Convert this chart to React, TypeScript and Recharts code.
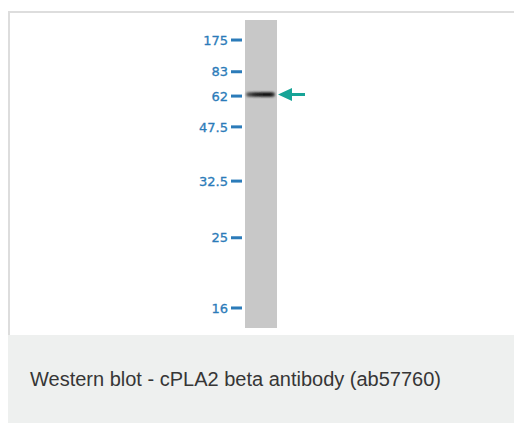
import React from "react";
import {
  ComposedChart,
  XAxis,
  YAxis,
  ReferenceArea,
  Scatter,
} from "recharts";

// molecular weight markers (kDa) and where they run, in % of lane length from the top
const markerLabels = ["175", "83", "62", "47.5", "32.5", "25", "16"];
const markerMigration = [6.5, 16.8, 24.7, 34.7, 52.3, 70.7, 93.5];

// detected band in the single lane
const bandLane = [0.5];
const bandMigration = [24.2];

const caption = "Western blot - cPLA2 beta antibody (ab57760)";

const bandData = bandLane.map((lane, i) => ({ lane, migration: bandMigration[i] }));

const LABEL_BLUE = "#2b7bb9";
const ARROW_TEAL = "#17a497";

function MarkerTick(props: any) {
  const { x, y, payload } = props;
  const idx = markerMigration.indexOf(payload.value);
  return (
    <g>
      <rect x={x - 14} y={y - 1.5} width={11} height={3} fill={LABEL_BLUE} />
      <text
        x={x - 17}
        y={y}
        dy="0.36em"
        textAnchor="end"
        fill={LABEL_BLUE}
        stroke={LABEL_BLUE}
        strokeWidth={0.3}
        fontFamily="DejaVu Sans, sans-serif"
        fontSize={13}
      >
        {markerLabels[idx]}
      </text>
    </g>
  );
}

function BandShape(props: any) {
  const { cx, cy } = props;
  return (
    <g>
      <rect
        x={cx - 15}
        y={cy - 2.2}
        width={29}
        height={4.4}
        rx={2.2}
        fill="url(#bandGrad)"
        filter="url(#bandBlur)"
      />
      <path
        d={`M ${cx + 17} ${cy}
            L ${cx + 31} ${cy - 6.5}
            L ${cx + 31} ${cy - 1.5}
            L ${cx + 44} ${cy - 1.5}
            L ${cx + 44} ${cy + 1.5}
            L ${cx + 31} ${cy + 1.5}
            L ${cx + 31} ${cy + 6.5} Z`}
        fill={ARROW_TEAL}
      />
    </g>
  );
}

export default function App() {
  return (
    <div
      style={{
        position: "absolute",
        left: 0,
        top: 0,
        width: 514,
        height: 423,
        background: "#fff",
        overflow: "hidden",
      }}
    >
      <div
        style={{
          position: "absolute",
          left: 8,
          top: 11,
          width: 506,
          height: 412,
          borderTop: "2px solid #dddddd",
          borderLeft: "2px solid #dddddd",
          boxSizing: "border-box",
        }}
      />
      <div style={{ position: "absolute", left: 0, top: 0 }}>
        <ComposedChart
          width={514}
          height={335}
          data={bandData}
          margin={{ top: 20, right: 237, bottom: 7, left: 200 }}
        >
          <defs>
            <linearGradient id="bandGrad" x1="0" y1="0" x2="1" y2="0">
              <stop offset="0%" stopColor="#666" />
              <stop offset="30%" stopColor="#222" />
              <stop offset="80%" stopColor="#050505" />
              <stop offset="100%" stopColor="#444" />
            </linearGradient>
            <filter id="bandBlur" x="-20%" y="-100%" width="140%" height="300%">
              <feGaussianBlur stdDeviation="0.8" />
            </filter>
          </defs>
          <XAxis type="number" dataKey="lane" domain={[0, 1]} hide />
          <YAxis
            type="number"
            dataKey="migration"
            domain={[0, 100]}
            reversed
            width={45}
            ticks={markerMigration}
            interval={0}
            axisLine={false}
            tickLine={false}
            tickSize={0}
            tickMargin={0}
            tick={<MarkerTick />}
          />
          <ReferenceArea
            x1={0}
            x2={1}
            y1={0}
            y2={100}
            fill="#c8c8c8"
            fillOpacity={1}
            stroke="none"
          />
          <Scatter
            data={bandData}
            dataKey="migration"
            shape={<BandShape />}
            isAnimationActive={false}
          />
        </ComposedChart>
      </div>
      <div
        style={{
          position: "absolute",
          left: 8,
          top: 335,
          width: 506,
          height: 88,
          background: "#eef0ef",
        }}
      />
      <div
        style={{
          position: "absolute",
          left: 30,
          top: 367,
          fontFamily: "Liberation Sans, Arial, sans-serif",
          fontSize: 20,
          lineHeight: "24px",
          color: "#363636",
          whiteSpace: "nowrap",
        }}
      >
        {caption}
      </div>
    </div>
  );
}
